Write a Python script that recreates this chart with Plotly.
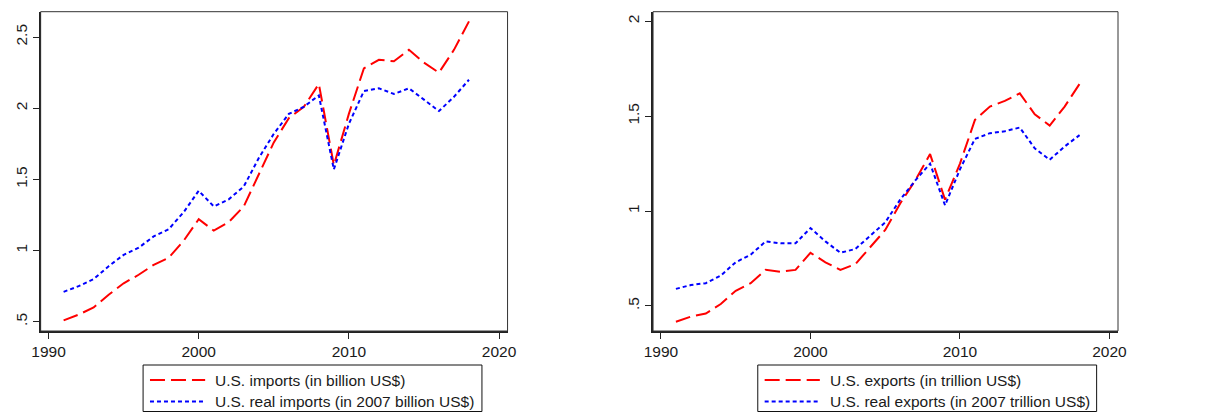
import plotly.graph_objects as go

# The page adds an 8px body margin, so the figure is drawn 8px in from the top-left.
OFF = 8
W, H = 1213 - OFF, 412 - OFF

years = list(range(1991, 2019))

imports_nominal = [0.51, 0.55, 0.60, 0.69, 0.77, 0.83, 0.90, 0.95, 1.07, 1.22,
                   1.14, 1.20, 1.31, 1.54, 1.76, 1.93, 2.01, 2.17, 1.60, 1.96,
                   2.28, 2.34, 2.33, 2.41, 2.32, 2.25, 2.41, 2.61]
imports_real = [0.71, 0.75, 0.80, 0.89, 0.97, 1.02, 1.10, 1.15, 1.27, 1.42,
                1.31, 1.36, 1.45, 1.65, 1.82, 1.96, 2.01, 2.09, 1.57, 1.89,
                2.12, 2.14, 2.10, 2.14, 2.06, 1.98, 2.08, 2.20]

exports_nominal = [0.417, 0.444, 0.46, 0.51, 0.58, 0.62, 0.69, 0.68, 0.69, 0.78,
                   0.73, 0.69, 0.72, 0.81, 0.90, 1.04, 1.16, 1.30, 1.06, 1.25,
                   1.48, 1.55, 1.58, 1.62, 1.51, 1.45, 1.55, 1.67]
exports_real = [0.59, 0.61, 0.62, 0.66, 0.73, 0.77, 0.84, 0.83, 0.83, 0.91,
                0.84, 0.78, 0.80, 0.87, 0.94, 1.06, 1.16, 1.25, 1.03, 1.22,
                1.38, 1.41, 1.42, 1.44, 1.33, 1.27, 1.34, 1.40]

x_ticks = [1990, 2000, 2010, 2020]
left_y_ticks = [0.5, 1, 1.5, 2, 2.5]
left_y_labels = [".5", "1", "1.5", "2", "2.5"]
right_y_ticks = [0.5, 1, 1.5, 2]
right_y_labels = [".5", "1", "1.5", "2"]

legend_left = ["U.S. imports (in billion US$)", "U.S. real imports (in 2007 billion US$)"]
legend_right = ["U.S. exports (in trillion US$)", "U.S. real exports (in 2007 trillion US$)"]

RED = "#FF0000"
BLUE = "#0000FF"
DASH = "15px,6px"
DOT = "4px,3px"
FONT = "Liberation Sans, Arial, sans-serif"
FS = 15.5
TXT = "#1a1a1a"


def px(x):
    # x given in reference (window) pixels
    return (x - OFF) / W


def py(y):
    return 1 - (y - OFF) / H


fig = go.Figure()
fig.add_trace(go.Scatter(x=years, y=imports_nominal, mode="lines", xaxis="x", yaxis="y",
                         line=dict(color=RED, width=2, dash=DASH), name=legend_left[0], showlegend=False))
fig.add_trace(go.Scatter(x=years, y=imports_real, mode="lines", xaxis="x", yaxis="y",
                         line=dict(color=BLUE, width=2, dash=DOT), name=legend_left[1], showlegend=False))
fig.add_trace(go.Scatter(x=years, y=exports_nominal, mode="lines", xaxis="x2", yaxis="y2",
                         line=dict(color=RED, width=2, dash=DASH), name=legend_right[0], showlegend=False))
fig.add_trace(go.Scatter(x=years, y=exports_real, mode="lines", xaxis="x2", yaxis="y2",
                         line=dict(color=BLUE, width=2, dash=DOT), name=legend_right[1], showlegend=False))

ydom = [py(331), py(11.7)]
XR = [1989.47, 2020.57]
common_x = dict(range=XR, tickvals=x_ticks, ticks="outside", ticklen=6,
                tickwidth=1, tickcolor="#222", showline=True, linewidth=1.6, linecolor="#222",
                showgrid=False, zeroline=False, tickfont=dict(family=FONT, size=FS, color=TXT),
                fixedrange=True)
common_y = dict(ticks="outside", ticklen=6, tickwidth=1, tickcolor="#222", showline=True,
                linewidth=1.6, linecolor="#222", showgrid=False, zeroline=False, tickangle=-90,
                tickfont=dict(family=FONT, size=FS, color=TXT), domain=ydom, fixedrange=True)

fig.update_layout(
    width=W, height=H, autosize=False,
    margin=dict(l=0, r=0, t=0, b=0),
    paper_bgcolor="white", plot_bgcolor="white",
    font=dict(family=FONT, size=FS, color=TXT),
    showlegend=False,
    xaxis=dict(domain=[px(32), px(506)], anchor="y", **common_x),
    yaxis=dict(anchor="x", range=[0.435, 2.678], tickvals=left_y_ticks, ticktext=left_y_labels, **common_y),
    xaxis2=dict(domain=[px(653.7), px(1125.7)], anchor="y2", **common_x),
    yaxis2=dict(anchor="x2", range=[0.368, 2.05], tickvals=right_y_ticks, ticktext=right_y_labels, **common_y),
)

shapes = []
for xr, yr in (("x domain", "y domain"), ("x2 domain", "y2 domain")):
    shapes.append(dict(type="rect", xref=xr, yref=yr, x0=0, x1=1, y0=0, y1=1,
                       line=dict(color="#333", width=1), fillcolor="rgba(0,0,0,0)", layer="above"))

annotations = []
for (bx0, bx1, labels) in ((136, 480, legend_left), (760, 1104, legend_right)):
    shapes.append(dict(type="rect", xref="paper", yref="paper", x0=px(bx0), x1=px(bx1),
                       y0=py(411.5), y1=py(365), line=dict(color="#111", width=1),
                       fillcolor="white"))
    for i, (col, dash, lab) in enumerate(((RED, DASH, labels[0]), (BLUE, DOT, labels[1]))):
        yy = 380 + i * 21.5
        shapes.append(dict(type="line", xref="paper", yref="paper", x0=px(bx0 + 7), x1=px(bx0 + 63),
                           y0=py(yy), y1=py(yy), line=dict(color=col, width=2, dash=dash)))
        annotations.append(dict(xref="paper", yref="paper", x=px(bx0 + 71), y=py(yy), text=lab,
                                showarrow=False, xanchor="left", yanchor="middle",
                                font=dict(family=FONT, size=FS, color=TXT)))

fig.update_layout(shapes=shapes, annotations=annotations)

fig.write_html("out.html")
